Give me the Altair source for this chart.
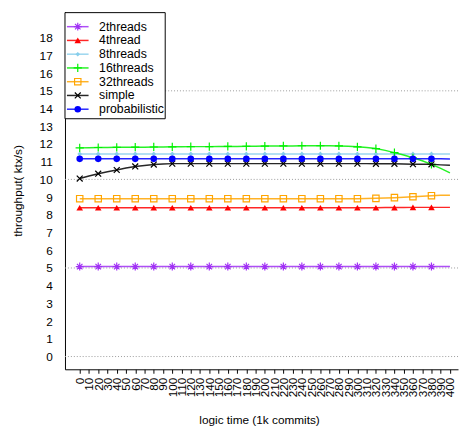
import altair as alt
import pandas as pd

# ---------------- data ----------------
x_values = [0, 10, 20, 30, 40, 50, 60, 70, 80, 90,
            100, 110, 120, 130, 140, 150, 160, 170, 180, 190,
            200, 210, 220, 230, 240, 250, 260, 270, 280, 290,
            300, 310, 320, 330, 340, 350, 360, 370, 380, 390, 400]

x_tick_values = [0, 10, 20, 30, 40, 50, 60, 70, 80, 90, 100, 110, 120, 130,
                 140, 150, 160, 170, 180, 190, 200, 210, 220, 230, 240, 250,
                 260, 270, 280, 290, 300, 310, 320, 330, 340, 350, 360, 370,
                 380, 390, 400]
y_tick_values = [0, 1, 2, 3, 4, 5, 6, 7, 8, 9, 10, 11, 12, 13, 14, 15, 16, 17, 18]
grid_values = [0, 5, 10, 15]

names = ["2threads", "4thread", "8threads", "16threads", "32threads",
         "simple", "probabilistic"]

threads2 = [5.08, 5.08, 5.08, 5.08, 5.08, 5.08, 5.08, 5.08, 5.08, 5.08,
            5.08, 5.08, 5.08, 5.08, 5.08, 5.08, 5.08, 5.08, 5.08, 5.08,
            5.08, 5.08, 5.08, 5.08, 5.08, 5.08, 5.08, 5.08, 5.08, 5.08,
            5.08, 5.08, 5.08, 5.08, 5.08, 5.08, 5.08, 5.08, 5.08, 5.08, 5.08]
thread4 = [8.40, 8.40, 8.40, 8.40, 8.40, 8.40, 8.40, 8.40, 8.40, 8.40,
           8.40, 8.40, 8.40, 8.40, 8.40, 8.40, 8.40, 8.40, 8.40, 8.40,
           8.40, 8.40, 8.40, 8.40, 8.40, 8.40, 8.40, 8.40, 8.40, 8.40,
           8.40, 8.40, 8.40, 8.41, 8.41, 8.41, 8.42, 8.42, 8.42, 8.42, 8.42]
threads8 = [11.44, 11.44, 11.44, 11.44, 11.44, 11.44, 11.44, 11.44, 11.44, 11.44,
            11.44, 11.44, 11.44, 11.44, 11.44, 11.44, 11.44, 11.44, 11.44, 11.44,
            11.44, 11.44, 11.44, 11.44, 11.44, 11.44, 11.44, 11.44, 11.44, 11.44,
            11.44, 11.44, 11.44, 11.44, 11.44, 11.44, 11.44, 11.44, 11.44, 11.44,
            11.44]
threads16 = [11.78, 11.79, 11.80, 11.80, 11.81, 11.81, 11.82, 11.82, 11.83, 11.83,
             11.84, 11.84, 11.85, 11.85, 11.85, 11.86, 11.86, 11.86, 11.87, 11.87,
             11.88, 11.88, 11.89, 11.89, 11.90, 11.90, 11.90, 11.90, 11.89, 11.87,
             11.84, 11.80, 11.74, 11.64, 11.51, 11.38, 11.22, 11.05, 10.85, 10.62,
             10.37]
threads32 = [8.91, 8.91, 8.91, 8.91, 8.91, 8.91, 8.91, 8.91, 8.91, 8.91,
             8.91, 8.91, 8.91, 8.91, 8.91, 8.91, 8.91, 8.91, 8.91, 8.91,
             8.91, 8.91, 8.91, 8.91, 8.91, 8.91, 8.91, 8.91, 8.91, 8.91,
             8.91, 8.92, 8.93, 8.95, 8.97, 8.99, 9.02, 9.05, 9.08, 9.10, 9.11]
simple = [10.05, 10.19, 10.32, 10.43, 10.53, 10.64, 10.73, 10.79, 10.84, 10.87,
          10.89, 10.89, 10.89, 10.89, 10.89, 10.89, 10.89, 10.89, 10.89, 10.89,
          10.89, 10.89, 10.89, 10.89, 10.89, 10.89, 10.89, 10.89, 10.89, 10.89,
          10.89, 10.89, 10.88, 10.88, 10.88, 10.87, 10.86, 10.86, 10.85, 10.82,
          10.80]
probabilistic = [11.16, 11.16, 11.16, 11.16, 11.16, 11.16, 11.16, 11.16, 11.16, 11.16,
                 11.16, 11.16, 11.16, 11.16, 11.16, 11.16, 11.16, 11.16, 11.16, 11.16,
                 11.16, 11.16, 11.16, 11.16, 11.16, 11.16, 11.16, 11.16, 11.16, 11.16,
                 11.16, 11.16, 11.16, 11.16, 11.16, 11.16, 11.16, 11.16, 11.16, 11.16,
                 11.15]

series_values = [threads2, thread4, threads8, threads16, threads32, simple, probabilistic]

colors = ["#a030f5", "#ff0000", "#87ceeb", "#00f000", "#ffa500", "#000000", "#0000ff"]

ASTER = "M-1,0L1,0M0,-1L0,1M-0.7,-0.7L0.7,0.7M-0.7,0.7L0.7,-0.7"
PLUS = "M-1,0L1,0M0,-1L0,1"
XSH = "M-1,-1L1,1M-1,1L1,-1"
marker_styles = [
    dict(shape=ASTER, filled=False, size=64, strokeWidth=1.2),
    dict(shape="triangle-up", filled=True, size=45, strokeWidth=0),
    dict(shape="diamond", filled=True, size=22, strokeWidth=0),
    dict(shape=PLUS, filled=False, size=70, strokeWidth=1.2),
    dict(shape="square", filled=False, size=42, strokeWidth=1.2),
    dict(shape=XSH, filled=False, size=36, strokeWidth=1.2),
    dict(shape="circle", filled=True, size=45, strokeWidth=0),
]

# ---------------- geometry ----------------
W, H = 400, 364
x_scale = alt.Scale(domain=[-15.9, 408.7], nice=False, zero=False)
y_scale = alt.Scale(domain=[-0.72, 19.47], nice=False, zero=False)
leg_scale = alt.Scale(domain=[0, 6], range=[15.3, 99.3], nice=False, zero=False)

x_axis = alt.Axis(values=x_tick_values, labelAngle=270, labelAlign="right",
                  labelBaseline="middle", labelPadding=4, tickSize=4,
                  labelOverlap=False, labelFlush=False, grid=False,
                  labelFontSize=12, title="logic time (1k commits)",
                  titleFontSize=12, titleFontWeight="normal",
                  titleX=197.5, titleY=51, titleAlign="center",
                  titleBaseline="middle", domainColor="black", tickColor="black",
                  labelColor="black", titleColor="black")
y_axis = alt.Axis(values=y_tick_values, ticks=False, tickSize=0, labelPadding=13,
                  grid=False, labelFontSize=12, labelOverlap=False,
                  labelFlush=False,
                  title="throughput( ktx/s)", titleFontSize=12,
                  titleFontWeight="normal", titleAngle=270, titleX=-48,
                  titleY=182, titleAlign="center", titleBaseline="middle",
                  domainColor="black", labelColor="black", titleColor="black")

rows = []
for name, vals in zip(names, series_values):
    for xv, yv in zip(x_values, vals):
        rows.append({"series": name, "x": xv, "y": yv})
df = pd.DataFrame(rows)

grid_df = pd.DataFrame({"v": grid_values})
grid = alt.Chart(grid_df).mark_rule(color="#9a9a9a", strokeDash=[1, 2],
                                    strokeWidth=1).encode(
    y=alt.Y("v:Q", scale=y_scale, axis=y_axis)
)

layers = [grid]
for i, name in enumerate(names):
    sdf = df[df["series"] == name]
    line = alt.Chart(sdf).mark_line(color=colors[i], strokeWidth=1.5,
                                    opacity=0.85).encode(
        x=alt.X("x:Q", scale=x_scale, axis=x_axis),
        y=alt.Y("y:Q", scale=y_scale, axis=None),
    )
    mdf = sdf[(sdf["x"] % 20 == 0) & (sdf["x"] < 400)]
    st = marker_styles[i]
    pt_kwargs = dict(shape=st["shape"], filled=st["filled"], size=st["size"],
                     opacity=1, color=colors[i])
    if st["strokeWidth"] > 0:
        pt_kwargs["strokeWidth"] = st["strokeWidth"]
    pts = alt.Chart(mdf).mark_point(**pt_kwargs).encode(
        x=alt.X("x:Q", scale=x_scale, axis=x_axis),
        y=alt.Y("y:Q", scale=y_scale, axis=None),
    )
    layers += [line, pts]

# ---------------- legend ----------------
box = alt.Chart(pd.DataFrame({"a": [0]})).mark_rect(
    fill="white", stroke="black", strokeWidth=1).encode(
    x=alt.value(0), x2=alt.value(102), y=alt.value(1), y2=alt.value(109))
layers.append(box)

leg_df = pd.DataFrame({"series": names, "idx": list(range(len(names)))})
for i, name in enumerate(names):
    one = leg_df[leg_df["series"] == name]
    lrule = alt.Chart(one).mark_rule(color=colors[i], strokeWidth=1.5,
                                     opacity=0.85).encode(
        x=alt.value(2), x2=alt.value(24),
        y=alt.Y("idx:Q", scale=leg_scale, axis=None))
    st = marker_styles[i]
    pt_kwargs = dict(shape=st["shape"], filled=st["filled"], size=st["size"],
                     opacity=1, color=colors[i])
    if st["strokeWidth"] > 0:
        pt_kwargs["strokeWidth"] = st["strokeWidth"]
    lpt = alt.Chart(one).mark_point(**pt_kwargs).encode(
        x=alt.value(13), y=alt.Y("idx:Q", scale=leg_scale, axis=None))
    layers += [lrule, lpt]

leg_text = alt.Chart(leg_df).mark_text(align="left", baseline="middle",
                                       fontSize=12.5, color="black").encode(
    x=alt.value(34.7), y=alt.Y("idx:Q", scale=leg_scale, axis=None),
    text="series:N")
layers.append(leg_text)

chart = alt.layer(*layers).resolve_scale(y="independent").properties(
    width=W, height=H,
    autosize=alt.AutoSizeParams(type="none"),
    padding={"left": 58, "top": 0, "right": 1, "bottom": 54},
).configure(font="Liberation Sans").configure_view(stroke=None)

chart.save("out.html", embed_options={"renderer": "svg", "actions": False})
